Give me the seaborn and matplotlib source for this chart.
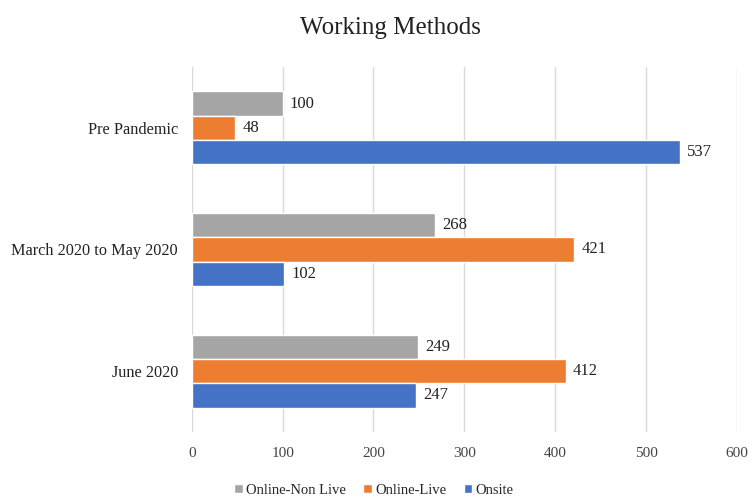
import matplotlib
matplotlib.use("Agg")
import matplotlib.pyplot as plt
import seaborn as sns
import pandas as pd
from matplotlib.patches import Patch

categories = ["Pre Pandemic", "March 2020 to May 2020", "June 2020"]
series = ["Online-Non Live", "Online-Live", "Onsite"]
online_non_live = [100, 268, 249]
online_live = [48, 421, 412]
onsite = [537, 102, 247]
colors = ["#A5A5A5", "#ED7D31", "#4472C4"]
xticks = [0, 100, 200, 300, 400, 500, 600]

rows = []
for s, vals in zip(series, [online_non_live, online_live, onsite]):
    for c, v in zip(categories, vals):
        rows.append({"Period": c, "Method": s, "Count": v})
df = pd.DataFrame(rows)

sns.set_theme(style="white")
plt.rcParams["font.family"] = ["Liberation Serif", "DejaVu Serif"]

fig = plt.figure(figsize=(7.55, 5.04), dpi=100)
ax = fig.add_axes([0.254, 0.143, 0.722, 0.724])
sns.barplot(data=df, y="Period", x="Count", hue="Method", order=categories,
            hue_order=series, palette=colors, orient="h", width=0.6,
            saturation=1, ax=ax, legend=False, errorbar=None)

for cont in ax.containers:
    ax.bar_label(cont, padding=5, fontsize=12, color="#222222")

ax.set_xlim(0, 600)
ax.set_xticks(xticks)
ax.set_xticklabels([str(t) for t in xticks], fontsize=11, color="#444444")
ax.tick_params(axis="y", labelsize=11.7, colors="#222222", length=0, pad=10)
ax.tick_params(axis="x", length=0, pad=11)
ax.set_xlabel("")
ax.set_ylabel("")
ax.grid(axis="x", color="#D9D9D9", linewidth=1)
ax.set_axisbelow(True)
for sp in ax.spines.values():
    sp.set_visible(False)

fig.text(0.517, 0.945, "Working Methods", ha="center", va="center", fontsize=18, color="#222222")

handles = [Patch(facecolor=c, label=s) for c, s in zip(colors, series)]
fig.legend(handles=handles, loc="center", bbox_to_anchor=(0.495, 0.027), ncol=3,
           frameon=False, fontsize=10.5, handlelength=0.6, handleheight=0.6,
           handletextpad=0.2, columnspacing=1.2)

fig.savefig("out.png", dpi=100)
